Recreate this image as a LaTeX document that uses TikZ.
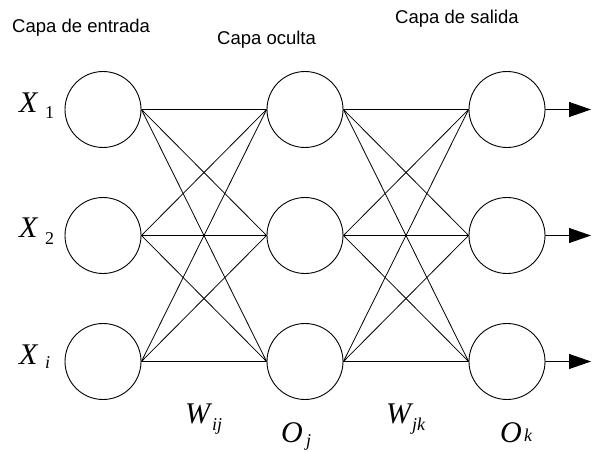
\documentclass[tikz,border=0pt]{standalone}
\usepackage{fontspec}
\setmainfont{Liberation Sans}
\newfontfamily\tms{Liberation Serif}
\usetikzlibrary{arrows.meta}
\begin{document}
\begin{tikzpicture}[x=1pt,y=-1pt,
  neuron/.style={circle,draw,line width=0.9pt,minimum size=76pt,inner sep=0pt},
  conn/.style={line width=0.8pt},
  outarrow/.style={line width=0.8pt,-{Triangle[length=22pt,width=15pt]}},
  title/.style={font=\fontsize{18.5}{20}\selectfont,anchor=base west,inner sep=0pt},
  mainsym/.style={font=\tms\itshape\fontsize{30}{32}\selectfont,anchor=base west,inner sep=0pt},
  subsym/.style={font=\tms\fontsize{18}{20}\selectfont,anchor=base west,inner sep=0pt},
  subisym/.style={font=\tms\itshape\fontsize{18}{20}\selectfont,anchor=base west,inner sep=0pt}]
\useasboundingbox (0,0) rectangle (592,452);
% neurons
\foreach \r/\y in {1/109.5,2/235.5,3/361.5}{
  \node[neuron] (i\r) at (103,\y) {};
  \node[neuron] (h\r) at (305,\y) {};
  \node[neuron] (o\r) at (507,\y) {};
}
% connections
\foreach \a in {1,2,3}{
  \foreach \b in {1,2,3}{
    \draw[conn] (i\a.east) -- (h\b.west);
    \draw[conn] (h\a.east) -- (o\b.west);
  }
}
% outputs
\foreach \r/\y in {1/109.5,2/235.5,3/361.5}{
  \coordinate (e\r) at (591,\y);
  \draw[outarrow] (o\r.east) -- (e\r);
}
% titles
\node[title] (t1) at (12,32.5) {Capa de entrada};
\node[title] (t2) at (217,45) {Capa oculta};
\node[title] (t3) at (395,24) {Capa de salida};
% input labels
\node[mainsym] (x1) at (19,112) {X};
\node[subsym] (x1s) at (45,118) {1};
\node[mainsym] (x2) at (19,237) {X};
\node[subsym] (x2s) at (45,244) {2};
\node[mainsym] (x3) at (19,364) {X};
\node[subisym] (x3s) at (45,368) {i};
% weights and outputs
\node[mainsym] (w1) at (185,423) {W};
\node[subisym] (w1s) at (212,430) {ij};
\node[mainsym] (oj) at (281,442) {O};
\node[subisym] (ojs) at (306,446) {j};
\node[mainsym] (w2) at (386,423) {W};
\node[subisym] (w2s) at (412,430) {jk};
\node[mainsym] (ok) at (500,442) {O};
\node[subisym] (oks) at (524,441) {k};
\end{tikzpicture}
\end{document}
